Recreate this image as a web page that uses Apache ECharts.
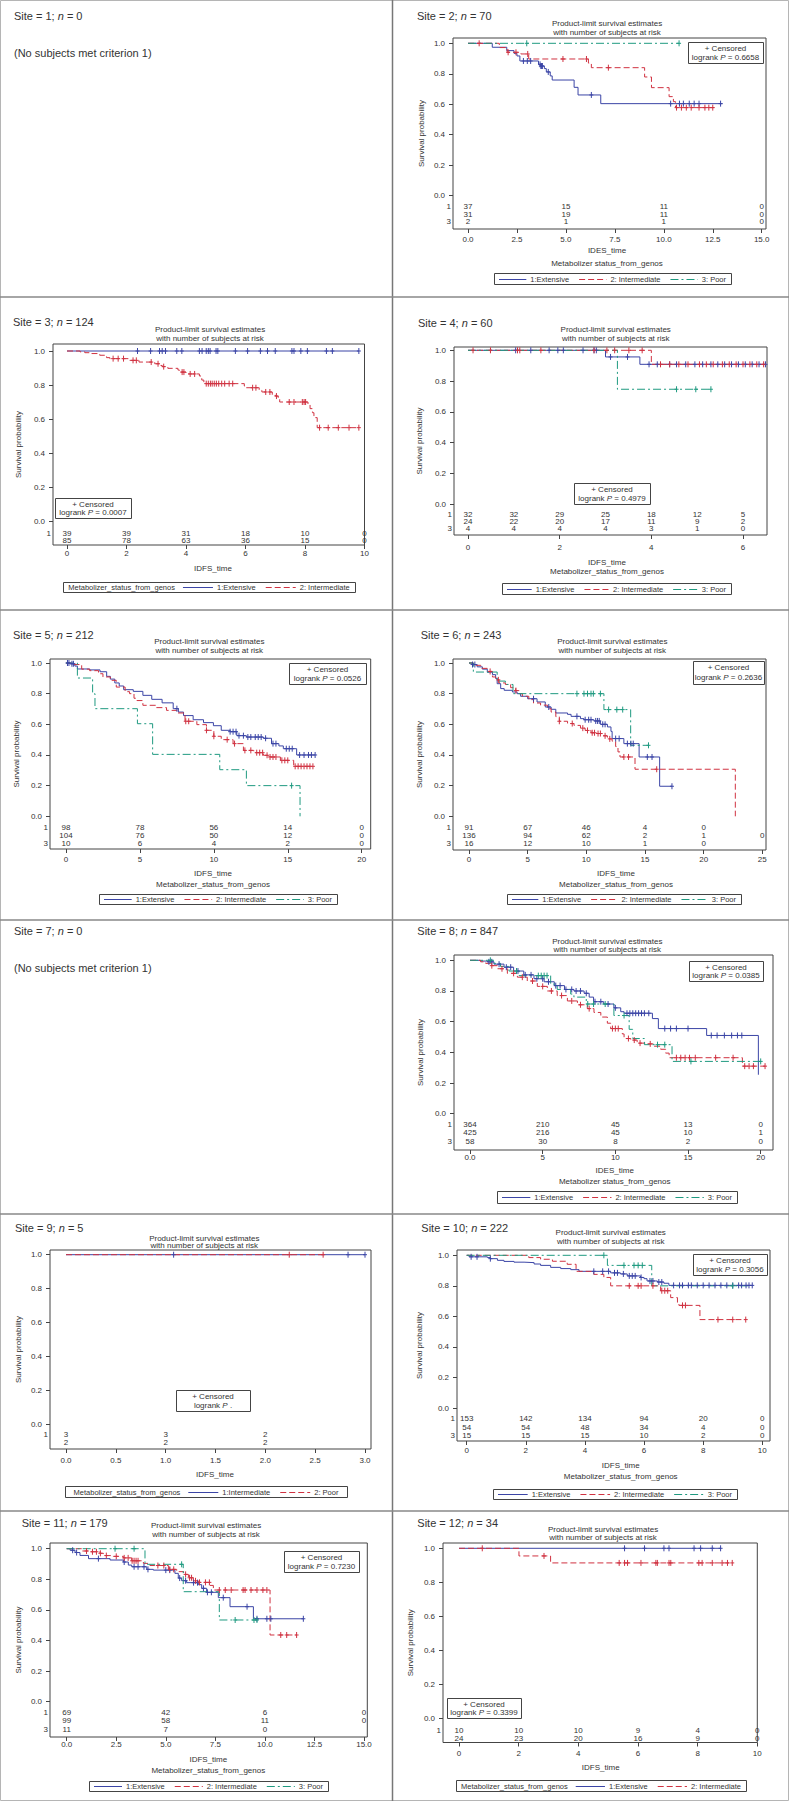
<!DOCTYPE html>
<html>
<head>
<meta charset="utf-8">
<title>Kaplan-Meier by site</title>
<script src="https://cdn.jsdelivr.net/npm/echarts@6/dist/echarts.min.js"></script>
<style>
  html, body { margin: 0; padding: 0; background: #fff; }
  #chart { width: 789px; height: 1801px; }
</style>
</head>
<body>
<div id="chart"></div>
<script>
// ---- data: [time, survival] steps, censor times, numbers at risk ----
const yTicks = [0, 0.2, 0.4, 0.6, 0.8, 1.0];
const names3 = ['1:Extensive', '2: Intermediate', '3: Poor'];
const names2 = ['1:Extensive', '2: Intermediate'];
const names9 = ['1:Intermediate', '2: Poor'];

// Site 2
const s2XTicks = [0, 2.5, 5, 7.5, 10, 12.5, 15];
const s2Ext = [[0,1],[1.24,0.974],[1.98,0.952],[2.35,0.934],[2.5,0.917],[2.65,0.884],[3.6,0.862],[3.72,0.851],[3.9,0.834],[4.0,0.812],[4.2,0.786],[4.3,0.759],[5.42,0.711],[5.62,0.661],[6.78,0.604],[13.0,0.604]];
const s2ExtCens = [2.83,3.03,3.2,3.68,3.72,3.76,3.8,4.1,6.3,10.35,10.8,11.0,11.3,11.55,11.8,12.9];
const s2Int = [[0,1],[1.6,0.972],[2.0,0.941],[2.7,0.93],[3.1,0.897],[6.15,0.87],[6.3,0.84],[9.02,0.779],[9.37,0.709],[10.27,0.65],[10.49,0.617],[10.6,0.578],[12.57,0.578]];
const s2IntCens = [0.57,2.05,2.45,3.05,4.85,6.05,7.17,10.65,10.9,11.15,11.4,11.8,12.1,12.3,12.5];
const s2Poor = [[0,1],[10.78,1]];
const s2PoorCens = [3.0,10.78];
const s2RiskT = [0, 5, 10, 15];
const s2Risk1 = [37, 15, 11, 0];
const s2Risk2 = [31, 19, 11, 0];
const s2Risk3 = [2, 1, 1, 0];

// Site 3
const s3XTicks = [0, 2, 4, 6, 8, 10];
const s3Ext = [[0,1],[9.81,1]];
const s3ExtCens = [2.37,2.81,3.11,3.2,3.31,3.69,3.86,4.45,4.54,4.68,4.75,4.81,5.01,5.07,5.66,6.07,6.5,6.74,7.0,7.56,7.63,7.86,8.08,8.72,8.92,9.81];
const s3Int = [[0,1],[0.44,0.995],[0.6,0.99],[0.83,0.985],[1.1,0.975],[1.33,0.961],[1.44,0.955],[2.1,0.945],[2.42,0.935],[2.95,0.925],[3.14,0.915],[3.2,0.908],[3.39,0.898],[3.73,0.888],[3.78,0.876],[4.0,0.865],[4.45,0.853],[4.53,0.829],[4.6,0.808],[5.96,0.794],[6.0,0.784],[6.46,0.769],[6.55,0.759],[6.9,0.741],[7.0,0.735],[7.1,0.716],[7.15,0.70],[8.1,0.686],[8.17,0.661],[8.25,0.637],[8.3,0.608],[8.41,0.549],[9.81,0.549]];
const s3IntCens = [1.55,1.72,1.9,2.22,2.33,2.83,3.06,3.25,3.87,3.93,4.14,4.29,4.68,4.75,4.82,4.88,4.95,5.02,5.1,5.2,5.3,5.45,5.57,6.24,6.35,6.68,6.82,7.04,7.47,7.63,7.91,7.97,8.02,8.49,8.78,9.12,9.48,9.81];
const s3RiskT = [0, 2, 4, 6, 8, 10];
const s3Risk1 = [39, 39, 31, 18, 10, 0];
const s3Risk2 = [85, 78, 63, 36, 15, 0];

// Site 4
const s4XTicks = [0, 2, 4, 6];
const s4Ext = [[0,1],[3.0,0.957],[3.75,0.909],[6.49,0.909]];
const s4ExtCens = [1.04,1.37,1.77,1.96,2.08,2.51,2.75,2.8,3.11,3.48,3.95,4.13,4.4,4.55,4.75,4.95,5.12,5.3,5.45,5.6,5.75,5.9,6.05,6.2,6.35,6.49];
const s4Int = [[0,1],[4.0,0.909],[6.45,0.909]];
const s4IntCens = [0.11,0.49,1.08,1.13,1.59,2.75,3.03,3.2,3.51,3.8,4.2,4.4,4.6,4.8,5.05,5.2,5.35,5.55,5.7,5.85,6.0,6.15,6.3,6.45];
const s4Poor = [[0,1],[3.26,0.747],[5.3,0.747]];
const s4PoorCens = [4.55,4.97,5.3];
const s4RiskT = [0, 1, 2, 3, 4, 5, 6];
const s4Risk1 = [32, 32, 29, 25, 18, 12, 5];
const s4Risk2 = [24, 22, 20, 17, 11, 9, 2];
const s4Risk3 = [4, 4, 4, 4, 3, 1, 0];

// Site 5
const s5XTicks = [0, 5, 10, 15, 20];
const s5Ext = [[0,1],[0.27,0.995],[0.6,0.98],[0.77,0.961],[1.6,0.955],[2.3,0.943],[2.75,0.913],[3.0,0.895],[3.3,0.87],[3.6,0.85],[3.9,0.826],[4.55,0.815],[5.2,0.789],[5.8,0.763],[6.5,0.74],[7.25,0.702],[7.6,0.68],[7.95,0.657],[8.6,0.63],[9.3,0.611],[9.97,0.591],[10.5,0.561],[11.1,0.552],[11.55,0.526],[12.2,0.517],[13.35,0.509],[13.9,0.474],[14.4,0.459],[14.7,0.441],[15.6,0.40],[16.85,0.40]];
const s5ExtCens = [0.1,0.2,0.4,0.5,7.5,11.1,11.3,11.5,11.7,12.0,12.3,12.5,12.8,13.0,13.2,13.5,14.0,14.2,14.9,15.1,15.3,15.8,16.1,16.4,16.6,16.85];
const s5Int = [[0,1],[0.38,0.99],[1.06,0.96],[1.6,0.95],[2.2,0.93],[2.5,0.909],[3.0,0.887],[3.4,0.843],[4.0,0.813],[4.3,0.80],[4.6,0.77],[4.8,0.755],[5.2,0.724],[6.1,0.709],[6.8,0.691],[7.5,0.674],[8.05,0.62],[8.85,0.598],[9.5,0.561],[10.0,0.522],[10.5,0.50],[11.3,0.474],[12.0,0.43],[12.7,0.415],[13.35,0.398],[13.8,0.387],[14.5,0.365],[15.4,0.326],[16.7,0.326]];
const s5IntCens = [8.1,8.3,9.5,10.0,10.9,11.4,12.1,12.5,12.9,13.1,13.3,13.6,13.8,14.0,14.2,14.6,14.8,15.0,15.5,15.7,15.9,16.1,16.3,16.5,16.7];
const s5Poor = [[0,1],[0.77,0.902],[1.8,0.80],[1.96,0.702],[4.83,0.604],[5.86,0.404],[10.4,0.304],[12.2,0.20],[15.83,0.0]];
const s5PoorCens = [15.26];
const s5RiskT = [0, 5, 10, 15, 20];
const s5Risk1 = [98, 78, 56, 14, 0];
const s5Risk2 = [104, 76, 50, 12, 0];
const s5Risk3 = [10, 6, 4, 2, 0];

// Site 6
const s6XTicks = [0, 5, 10, 15, 20, 25];
const s6Ext = [[0,1],[0.28,0.99],[0.7,0.975],[1.14,0.96],[1.56,0.94],[2.0,0.924],[2.27,0.90],[2.4,0.865],[2.7,0.833],[3.0,0.822],[3.7,0.811],[4.1,0.80],[4.4,0.783],[5.0,0.767],[5.8,0.746],[6.5,0.713],[7.0,0.698],[7.4,0.674],[8.4,0.665],[8.7,0.652],[9.5,0.637],[9.8,0.63],[10.65,0.622],[11.2,0.60],[11.8,0.583],[12.1,0.554],[12.2,0.507],[13.2,0.474],[14.5,0.387],[16.25,0.196],[17.3,0.196]];
const s6ExtCens = [0.3,0.5,5.5,6.8,9.2,9.9,10.2,10.4,10.8,10.95,11.1,11.4,11.6,12.5,12.8,13.5,13.8,14.0,15.2,15.6,17.3];
const s6Int = [[0,1],[0.4,0.985],[1.0,0.965],[1.56,0.945],[2.0,0.909],[2.27,0.89],[2.56,0.87],[3.1,0.86],[3.55,0.839],[3.98,0.82],[4.26,0.80],[4.55,0.783],[5.1,0.761],[5.5,0.739],[6.1,0.725],[6.7,0.702],[7.0,0.68],[7.4,0.65],[7.7,0.62],[8.4,0.605],[8.95,0.593],[9.5,0.575],[9.9,0.56],[10.4,0.545],[10.9,0.54],[11.4,0.525],[11.8,0.505],[12.2,0.49],[12.5,0.455],[12.7,0.42],[12.87,0.387],[14.15,0.307],[22.7,0.0]];
const s6IntCens = [1.8,2.5,4.0,7.7,8.8,9.7,10.1,10.5,10.7,11.0,11.2,11.6,12.0,13.2,13.6,16.0];
const s6Poor = [[0,1],[0.37,0.941],[2.4,0.882],[3.1,0.86],[3.75,0.80],[11.5,0.696],[13.78,0.463],[15.3,0.463]];
const s6PoorCens = [9.2,9.8,10.1,10.4,10.6,11.2,11.9,12.6,13.1,15.3];
const s6RiskT = [0, 5, 10, 15, 20, 25];
const s6Risk1 = [91, 67, 46, 4, 0, null];
const s6Risk2 = [136, 94, 62, 2, 1, 0];
const s6Risk3 = [16, 12, 10, 1, 0, null];

// Site 8
const s8XTicks = [0, 5, 10, 15, 20];
const s8Ext = [[0,1],[0.73,0.995],[1.2,0.99],[1.65,0.975],[2.34,0.955],[3.0,0.93],[3.7,0.905],[4.4,0.88],[5.1,0.86],[5.8,0.835],[6.5,0.81],[7.15,0.80],[7.85,0.785],[8.2,0.76],[8.5,0.73],[9.2,0.715],[9.9,0.69],[10.37,0.665],[10.6,0.655],[12.55,0.62],[12.96,0.555],[16.28,0.51],[19.84,0.254]];
const s8ExtCens = [1.3,1.5,2.0,2.5,2.8,3.3,3.8,4.2,4.6,5.0,5.4,5.9,6.2,6.6,7.0,7.3,7.6,8.0,8.6,9.0,9.5,10.0,10.8,11.0,11.2,11.4,11.6,11.8,12.0,12.3,13.4,13.8,14.2,15.0,16.6,17.0,17.5,18.0,18.4,18.7];
const s8Int = [[0,1],[0.73,0.99],[1.08,0.98],[1.42,0.965],[1.88,0.945],[2.57,0.915],[3.26,0.89],[3.94,0.865],[4.63,0.83],[5.32,0.80],[6.0,0.77],[6.7,0.735],[7.39,0.71],[8.07,0.685],[8.53,0.66],[9.0,0.63],[9.45,0.59],[9.68,0.555],[10.48,0.52],[10.6,0.49],[11.06,0.48],[11.5,0.46],[12.2,0.455],[12.66,0.44],[13.12,0.42],[13.46,0.395],[13.7,0.365],[18.74,0.31],[20.3,0.31]];
const s8IntCens = [1.5,2.2,3.0,3.6,4.3,5.0,5.6,6.3,7.0,7.6,8.2,9.8,10.0,10.2,10.9,11.3,11.7,12.4,14.2,14.5,14.8,15.1,15.5,16.9,18.1,18.9,19.2,19.5,20.3];
const s8Poor = [[0,1],[1.65,0.98],[2.1,0.96],[2.68,0.93],[3.37,0.90],[5.55,0.845],[6.0,0.81],[6.93,0.78],[7.15,0.76],[8.0,0.715],[9.9,0.64],[10.95,0.55],[11.2,0.49],[12.0,0.45],[13.9,0.341],[20.0,0.341]];
const s8PoorCens = [1.4,3.2,4.7,4.9,5.1,5.3,8.1,8.5,9.3,10.6,12.9,13.4,15.2,20.0];
const s8RiskT = [0, 5, 10, 15, 20];
const s8Risk1 = [364, 210, 45, 13, 0];
const s8Risk2 = [425, 216, 45, 10, 1];
const s8Risk3 = [58, 30, 8, 2, 0];

// Site 9
const s9XTicks = [0, 0.5, 1, 1.5, 2, 2.5, 3];
const s9Int = [[0,1],[3.0,1]];
const s9IntCens = [1.08,2.83,3.0];
const s9Poor = [[0,1],[2.58,1]];
const s9PoorCens = [2.24,2.58];
const s9RiskT = [0, 1, 2];
const s9Risk1 = [3, 3, 2];
const s9Risk2 = [2, 2, 2];

// Site 10
const s10XTicks = [0, 2, 4, 6, 8, 10];
const s10Ext = [[0,1],[0.08,0.99],[0.7,0.985],[0.8,0.978],[1.04,0.967],[1.26,0.96],[1.6,0.955],[1.94,0.952],[2.28,0.943],[2.5,0.934],[2.84,0.921],[3.18,0.913],[3.52,0.906],[3.8,0.895],[4.87,0.885],[5.2,0.878],[5.43,0.865],[5.88,0.855],[6.0,0.847],[6.1,0.832],[6.45,0.825],[6.67,0.817],[6.84,0.803],[9.66,0.803]];
const s10ExtCens = [0.15,0.35,0.8,4.3,4.6,4.8,5.0,5.1,5.3,5.5,5.6,5.7,5.9,6.2,6.3,6.5,6.6,7.0,7.2,7.3,7.5,7.6,7.8,8.0,8.2,8.4,8.6,8.8,9.0,9.2,9.3,9.45,9.55,9.66];
const s10Int = [[0,1],[2.1,0.985],[2.5,0.974],[2.9,0.961],[3.4,0.941],[3.7,0.895],[4.3,0.875],[4.64,0.855],[4.87,0.80],[6.56,0.768],[6.9,0.723],[7.13,0.683],[7.18,0.672],[7.89,0.579],[9.44,0.579]];
const s10IntCens = [5.5,5.8,5.9,6.3,6.6,6.7,6.8,7.3,7.4,8.5,9.0,9.44];
const s10Poor = [[0,1],[4.76,0.934],[6.26,0.80],[9.6,0.80]];
const s10PoorCens = [4.64,5.32,5.66,5.8,5.94,9.0];
const s10RiskT = [0, 2, 4, 6, 8, 10];
const s10Risk1 = [153, 142, 134, 94, 20, 0];
const s10Risk2 = [54, 54, 48, 34, 4, 0];
const s10Risk3 = [15, 15, 15, 10, 2, 0];

// Site 11
const s11XTicks = [0, 2.5, 5, 7.5, 10, 12.5, 15];
const s11Ext = [[0,1],[0.17,0.99],[0.42,0.975],[0.67,0.956],[1.1,0.935],[2.19,0.926],[2.86,0.913],[3.11,0.893],[3.28,0.882],[4.04,0.865],[4.37,0.86],[5.46,0.839],[5.63,0.808],[5.8,0.791],[6.05,0.778],[6.64,0.765],[6.81,0.741],[7.06,0.715],[7.65,0.68],[8.24,0.621],[9.42,0.542],[11.94,0.542]];
const s11ExtCens = [0.3,0.5,1.6,2.9,3.4,3.6,3.9,4.1,5.0,5.2,5.7,6.0,6.4,6.6,6.9,7.1,7.3,7.9,9.1,9.6,10.1,10.3,11.94];
const s11Int = [[0,1],[0.76,0.985],[1.1,0.98],[1.68,0.97],[1.85,0.955],[2.35,0.95],[2.86,0.94],[3.28,0.921],[3.87,0.904],[4.2,0.89],[5.13,0.865],[5.55,0.85],[5.9,0.832],[6.14,0.81],[6.39,0.79],[6.64,0.78],[7.23,0.76],[7.4,0.73],[10.26,0.436],[11.6,0.436]];
const s11IntCens = [1.0,1.3,1.5,1.7,2.0,2.5,2.9,3.1,3.3,3.4,3.5,3.6,4.6,4.9,5.2,5.4,6.0,6.2,6.3,6.5,6.7,7.0,7.2,7.7,8.0,8.3,8.9,9.0,9.3,9.6,9.9,10.1,10.8,11.1,11.6];
const s11Poor = [[0,1],[3.95,0.898],[5.88,0.719],[7.7,0.534],[9.6,0.534]];
const s11PoorCens = [2.44,3.4,5.8,8.5,9.45,9.6];
const s11RiskT = [0, 5, 10, 15];
const s11Risk1 = [69, 42, 6, 0];
const s11Risk2 = [99, 58, 11, 0];
const s11Risk3 = [11, 7, 0, null];

// Site 12
const s12XTicks = [0, 2, 4, 6, 8, 10];
const s12Ext = [[0,1],[8.77,1]];
const s12ExtCens = [5.55,6.22,6.87,7.04,7.88,8.1,8.49,8.77];
const s12Int = [[0,1],[2.01,0.955],[3.07,0.914],[9.16,0.914]];
const s12IntCens = [0.78,2.85,5.37,5.55,5.65,6.1,6.6,6.65,7.04,7.1,8.04,8.15,8.49,8.82,9.0,9.16];
const s12RiskT = [0, 2, 4, 6, 8, 10];
const s12Risk1 = [10, 10, 10, 9, 4, 0];
const s12Risk2 = [24, 23, 20, 16, 9, 0];

// ---- look ----
const FONT = '"Liberation Sans", Arial, Helvetica, sans-serif';
const INK = '#333';
const FRAME = '#444';
const groupStyle = [
  { color: '#3b45a6', dash: 'solid' },
  { color: '#d03241', dash: [6, 3] },
  { color: '#1f9a80', dash: [8, 3, 2, 3] }
];
const fix1 = v => v.toFixed(1);
const plain = v => String(v);

// ---- panel layout (pixels in the 789x1801 page) ----
const panels = [
  { site: 2, n: 70, title: [417, 16], sub: [607, 23, 32],
    box: [453, 38, 766, 229], xMap: [0, 468, 15, 761.7], yMap: [43.3, 195.7],
    xTicks: s2XTicks, xFmt: fix1, labelY: 239.5,
    curves: [[s2Ext, s2ExtCens], [s2Int, s2IntCens], [s2Poor, s2PoorCens]],
    riskT: s2RiskT, risk: [s2Risk1, s2Risk2, s2Risk3], riskY: [206.7, 214.3, 221.7],
    xName: ['IDES_time', 'Metabolizer status_from_genos'], xNameY: [250.7, 263.3], xNameX: 607,
    legend: [494, 273, 731, 284], names: names3, prefix: false,
    cens: [688, 42, 763, 63], p: '0.6658', yNameX: 421 },
  { site: 3, n: 124, title: [13, 322], sub: [210, 329, 338],
    box: [53, 344, 364.5, 545], xMap: [0, 67, 10, 364.5], yMap: [351, 521],
    xTicks: s3XTicks, xFmt: plain, labelY: 554,
    curves: [[s3Ext, s3ExtCens], [s3Int, s3IntCens]],
    riskT: s3RiskT, risk: [s3Risk1, s3Risk2], riskY: [533, 540],
    xName: ['IDFS_time'], xNameY: [568], xNameX: 213,
    legend: [63, 582, 355, 592], names: names2, prefix: true,
    cens: [55, 498, 131, 518], p: '0.0007', yNameX: 18.5 },
  { site: 4, n: 60, title: [418, 323.3], sub: [615.7, 329.3, 338.3],
    box: [454, 347, 767, 535], xMap: [0, 468, 6, 743], yMap: [350.3, 504.3],
    xTicks: s4XTicks, xFmt: plain, labelY: 547.7,
    curves: [[s4Ext, s4ExtCens], [s4Int, s4IntCens], [s4Poor, s4PoorCens]],
    riskT: s4RiskT, risk: [s4Risk1, s4Risk2, s4Risk3], riskY: [514.3, 521.7, 528.7],
    xName: ['IDFS_time', 'Metabolizer_status_from_genos'], xNameY: [562.7, 571.5], xNameX: 607,
    legend: [502, 583, 731, 594], names: names3, prefix: false,
    cens: [574, 483, 650, 504], p: '0.4979', yNameX: 419 },
  { site: 5, n: 212, title: [13, 635.3], sub: [209.3, 641.3, 650.3],
    box: [50, 659, 370.7, 849], xMap: [0, 66, 20, 361.7], yMap: [663, 816.3],
    xTicks: s5XTicks, xFmt: plain, labelY: 860.3,
    curves: [[s5Ext, s5ExtCens], [s5Int, s5IntCens], [s5Poor, s5PoorCens]],
    riskT: s5RiskT, risk: [s5Risk1, s5Risk2, s5Risk3], riskY: [827, 835.3, 843.7],
    xName: ['IDFS_time', 'Metabolizer_status_from_genos'], xNameY: [873.7, 884.3], xNameX: 213,
    legend: [99, 894, 337, 904], names: names3, prefix: false,
    cens: [289, 663, 366, 684], p: '0.0526', yNameX: 16.7 },
  { site: 6, n: 243, title: [420.7, 635.3], sub: [612.3, 641.7, 650.7],
    box: [453, 659, 766, 850], xMap: [0, 469, 25, 762.3], yMap: [663, 816.3],
    xTicks: s6XTicks, xFmt: plain, labelY: 860.3,
    curves: [[s6Ext, s6ExtCens], [s6Int, s6IntCens], [s6Poor, s6PoorCens]],
    riskT: s6RiskT, risk: [s6Risk1, s6Risk2, s6Risk3], riskY: [827.3, 835.3, 843.7],
    xName: ['IDFS_time', 'Metabolizer_status_from_genos'], xNameY: [873.7, 884.3], xNameX: 616,
    legend: [507, 894, 741, 904], names: names3, prefix: false,
    cens: [693, 661, 764, 684], p: '0.2636', yNameX: 419 },
  { site: 8, n: 847, title: [417.3, 931.3], sub: [607.3, 941.3, 949.7],
    box: [454, 955, 773, 1150], xMap: [0, 470, 20, 760.7], yMap: [960.3, 1113.7],
    xTicks: s8XTicks, xFmt: v => (v === 0 ? '0.0' : String(v)), labelY: 1158,
    curves: [[s8Ext, s8ExtCens], [s8Int, s8IntCens], [s8Poor, s8PoorCens]],
    riskT: s8RiskT, risk: [s8Risk1, s8Risk2, s8Risk3], riskY: [1124.7, 1132.7, 1141],
    xName: ['IDES_time', 'Metabolizer status_from_genos'], xNameY: [1170.3, 1181.3], xNameX: 614.7,
    legend: [497, 1191, 737, 1203], names: names3, prefix: false,
    cens: [689, 961, 763, 981], p: '0.0385', yNameX: 420.7 },
  { site: 9, n: 5, title: [15, 1228], sub: [204.3, 1238, 1245.3],
    box: [50, 1250, 371, 1449], xMap: [0, 66, 3, 365], yMap: [1254.7, 1424.3],
    xTicks: s9XTicks, xFmt: fix1, labelY: 1461.3,
    curves: [[s9Int, s9IntCens], [s9Poor, s9PoorCens]],
    riskT: s9RiskT, risk: [s9Risk1, s9Risk2], riskY: [1434.7, 1442.7],
    xName: ['IDFS_time'], xNameY: [1474.7], xNameX: 215,
    legend: [65, 1486, 347, 1497], names: names9, prefix: true,
    cens: [176, 1390, 250, 1411], p: null, yNameX: 18.3 },
  { site: 10, n: 222, title: [421.3, 1228], sub: [610.7, 1232.7, 1241.3],
    box: [457, 1250, 770, 1441], xMap: [0, 466.7, 10, 762.3], yMap: [1255.3, 1408],
    xTicks: s10XTicks, xFmt: plain, labelY: 1451.3,
    curves: [[s10Ext, s10ExtCens], [s10Int, s10IntCens], [s10Poor, s10PoorCens]],
    riskT: s10RiskT, risk: [s10Risk1, s10Risk2, s10Risk3], riskY: [1418.7, 1427, 1435.3],
    xName: ['IDFS_time', 'Metabolizer_status_from_genos'], xNameY: [1465.3, 1476.3], xNameX: 620.7,
    legend: [493, 1489, 737, 1499], names: names3, prefix: false,
    cens: [693, 1254, 767, 1275], p: '0.3056', yNameX: 419 },
  { site: 11, n: 179, title: [21.7, 1523.3], sub: [206, 1525, 1534.3],
    box: [50, 1543, 367.3, 1737], xMap: [0, 66.7, 15, 364], yMap: [1548.7, 1701.7],
    xTicks: s11XTicks, xFmt: fix1, labelY: 1745,
    curves: [[s11Ext, s11ExtCens], [s11Int, s11IntCens], [s11Poor, s11PoorCens]],
    riskT: s11RiskT, risk: [s11Risk1, s11Risk2, s11Risk3], riskY: [1712.3, 1721, 1729.3],
    xName: ['IDFS_time', 'Metabolizer_status_from_genos'], xNameY: [1759, 1770], xNameX: 208.3,
    legend: [89, 1781, 328, 1791], names: names3, prefix: false,
    cens: [284, 1551, 359, 1572], p: '0.7230', yNameX: 18.3 },
  { site: 12, n: 34, title: [417.3, 1523.3], sub: [603, 1529.3, 1537.3],
    box: [443, 1543, 757.3, 1742.5], xMap: [0, 459, 10, 757.3], yMap: [1548.3, 1718.3],
    xTicks: s12XTicks, xFmt: plain, labelY: 1754,
    curves: [[s12Ext, s12ExtCens], [s12Int, s12IntCens]],
    riskT: s12RiskT, risk: [s12Risk1, s12Risk2], riskY: [1730, 1738],
    xName: ['IDFS_time'], xNameY: [1767.7], xNameX: 600.7,
    legend: [456, 1780, 746, 1791], names: names2, prefix: true,
    cens: [447, 1698, 521, 1718], p: '0.3399', yNameX: 410 }
];

// empty sites: title position and note position
const emptySites = [
  { site: 1, title: [14, 16], note: 52.7 },
  { site: 7, title: [14, 931.3], note: 968 }
];

// ---- helpers ----
const LEG_SIZE = 7.5;
const measureCtx = document.createElement('canvas').getContext('2d');
function textWidth(s, size) {
  measureCtx.font = size + 'px ' + FONT;
  return measureCtx.measureText(s).width;
}

function survivalAt(curve, t) {
  let s = curve[0][1];
  for (const pt of curve) {
    if (pt[0] <= t + 1e-9) s = pt[1]; else break;
  }
  return s;
}

function txt(x, y, text, opt) {
  opt = opt || {};
  const align = opt.align || 'left';
  const style = {
    text: text, fontSize: opt.size || 8, fontFamily: FONT, fill: opt.color || INK,
    align: align, verticalAlign: 'middle', textAlign: align, textVerticalAlign: 'middle'
  };
  if (opt.rich) style.rich = opt.rich;
  return { type: 'text', x: x, y: y, rotation: opt.rotation || 0, silent: true, z: 20, style: style };
}

function richItalic(size) {
  return {
    a: { fontSize: size, fontFamily: FONT, fill: INK, color: INK },
    b: { fontSize: size, fontFamily: FONT, fill: INK, color: INK, fontStyle: 'italic' }
  };
}

function titleText(pos, site, n) {
  return txt(pos[0], pos[1], '{a|Site = ' + site + '; }{b|n}{a| = ' + n + '}', { size: 11, rich: richItalic(11) });
}

function censorRenderer(color) {
  return function (params, api) {
    const p = api.coord([api.value(0), api.value(1)]);
    return {
      type: 'group',
      children: [
        { type: 'line', shape: { x1: p[0], y1: p[1] - 3, x2: p[0], y2: p[1] + 3 }, style: { stroke: color, lineWidth: 1 } },
        { type: 'line', shape: { x1: p[0] - 2, y1: p[1], x2: p[0] + 2, y2: p[1] }, style: { stroke: color, lineWidth: 1 } }
      ]
    };
  };
}

function riskRenderer(params, api) {
  const p = api.coord([api.value(0), api.value(1)]);
  return {
    type: 'text', x: p[0], y: p[1],
    style: { text: String(api.value(2)), fontSize: 8, fontFamily: FONT, fill: INK,
             align: 'center', verticalAlign: 'middle', textAlign: 'center', textVerticalAlign: 'middle' }
  };
}

// legend drawn inside the box measured on the figure; line length fitted to the box
function legendGraphic(p) {
  const [l, t, r, b] = p.legend;
  const cy = Math.round((t + b) / 2) + 0.5;
  const out = [{ type: 'rect', z: 15, silent: true,
    shape: { x: Math.round(l) + 0.5, y: Math.round(t) + 0.5, width: Math.round(r - l), height: Math.round(b - t) },
    style: { fill: '#fff', stroke: FRAME, lineWidth: 1 } }];
  const n = p.names.length;
  const pad = 5, g1 = 4, g2 = 10, gp = 8;
  const prefix = 'Metabolizer_status_from_genos';
  const pw = p.prefix ? textWidth(prefix, LEG_SIZE) + gp : 0;
  const widths = p.names.map(s => textWidth(s, LEG_SIZE));
  const T = pw + widths.reduce((a, w) => a + w, 0);
  let L = (r - l - 2 * pad - T - n * g1 - (n - 1) * g2) / n;
  L = Math.max(14, Math.min(30, L));
  const total = T + n * (L + g1) + (n - 1) * g2;
  let x = (l + r) / 2 - total / 2;
  if (p.prefix) { out.push(txt(x, cy, prefix, { size: LEG_SIZE })); x += pw; }
  p.names.forEach((s, i) => {
    const st = groupStyle[i];
    out.push({ type: 'line', z: 20, silent: true,
      shape: { x1: x, y1: cy, x2: x + L, y2: cy },
      style: { stroke: st.color, lineWidth: 1, lineDash: st.dash === 'solid' ? null : st.dash } });
    x += L + g1;
    out.push(txt(x, cy, s, { size: LEG_SIZE }));
    x += widths[i] + g2;
  });
  return out;
}

function censBoxGraphic(p) {
  const [l, t, r, b] = p.cens;
  const cx = (l + r) / 2, h = b - t;
  const line2 = p.p === null ? '{a|logrank }{b|P}{a| .}' : '{a|logrank }{b|P}{a| = ' + p.p + '}';
  return [
    { type: 'rect', z: 15, silent: true,
      shape: { x: Math.round(l) + 0.5, y: Math.round(t) + 0.5, width: Math.round(r - l), height: Math.round(h) },
      style: { fill: '#fff', stroke: FRAME, lineWidth: 1 } },
    txt(cx, t + h * 0.3, '+ Censored', { align: 'center' }),
    txt(cx, t + h * 0.72, line2, { align: 'center', rich: richItalic(8) })
  ];
}

// ---- build option ----
const option = {
  animation: false,
  backgroundColor: '#fff',
  textStyle: { fontFamily: FONT },
  grid: [], xAxis: [], yAxis: [], series: [], graphic: []
};
const gfx = option.graphic;

// panel frame lines
const frameH = [297, 610, 920, 1214, 1511];
gfx.push({ type: 'rect', silent: true, z: 1, shape: { x: 0.5, y: 0.5, width: 788, height: 1800 },
  style: { fill: 'none', stroke: '#b5b5b5', lineWidth: 1 } });
gfx.push({ type: 'line', silent: true, z: 1, shape: { x1: 392.5, y1: 0, x2: 392.5, y2: 1801 },
  style: { stroke: '#777', lineWidth: 1.5 } });
frameH.forEach(y => gfx.push({ type: 'line', silent: true, z: 1, shape: { x1: 0, y1: y, x2: 789, y2: y },
  style: { stroke: '#888', lineWidth: 1.5 } }));

emptySites.forEach(e => {
  gfx.push(titleText(e.title, e.site, 0));
  gfx.push(txt(e.title[0], e.note, '(No subjects met criterion 1)', { size: 11 }));
});

panels.forEach(p => {
  const [l, t, r, b] = p.box;
  const [v0, px0, v1, px1] = p.xMap;
  const sx = (px1 - px0) / (v1 - v0);
  const xMin = v0 - (px0 - l) / sx;
  const xMax = v0 + (r - px0) / sx;
  const sy = p.yMap[1] - p.yMap[0];
  const yMax = 1 + (p.yMap[0] - t) / sy;
  const yMin = -(b - p.yMap[1]) / sy;

  // main plot box
  const gi = option.grid.length;
  option.grid.push({ left: l, top: t, width: r - l, height: b - t, show: true,
    borderColor: FRAME, borderWidth: 1, backgroundColor: 'transparent',
    containLabel: false, outerBoundsMode: 'none' });
  option.xAxis.push({ type: 'value', gridIndex: gi, min: xMin, max: xMax,
    axisLine: { show: false, onZero: false }, splitLine: { show: false },
    axisTick: { show: true, length: 4, customValues: p.xTicks, lineStyle: { color: FRAME } },
    axisLabel: { customValues: p.xTicks, formatter: p.xFmt, fontSize: 8, color: INK, fontFamily: FONT,
      margin: p.labelY - b - 4.5 } });
  option.yAxis.push({ type: 'value', gridIndex: gi, min: yMin, max: yMax,
    axisLine: { show: false, onZero: false }, splitLine: { show: false },
    axisTick: { show: true, length: 4, customValues: yTicks, lineStyle: { color: FRAME } },
    axisLabel: { customValues: yTicks, formatter: fix1, fontSize: 8, color: INK, fontFamily: FONT, margin: 8 } });

  // at-risk table rows share the x scale
  const nRows = p.risk.length;
  const rh = (p.riskY[nRows - 1] - p.riskY[0]) / (nRows - 1);
  const ri = option.grid.length;
  option.grid.push({ left: l, top: p.riskY[0] - rh / 2, width: r - l, height: rh * nRows, show: false,
    containLabel: false, outerBoundsMode: 'none' });
  option.xAxis.push({ type: 'value', gridIndex: ri, min: xMin, max: xMax, show: false });
  option.yAxis.push({ type: 'category', gridIndex: ri, inverse: true,
    data: p.risk.map((row, k) => String(k + 1)),
    axisLine: { show: false }, axisTick: { show: false }, splitLine: { show: false },
    axisLabel: { fontSize: 8, color: INK, fontFamily: FONT, margin: 2 } });

  // survival curves and censor marks
  p.curves.forEach(([curve, cens], k) => {
    const st = groupStyle[k];
    option.series.push({ type: 'line', name: p.names[k], xAxisIndex: gi, yAxisIndex: gi,
      data: curve, step: 'end', symbol: 'none', silent: true, z: 3,
      lineStyle: { color: st.color, width: 1, type: st.dash } });
    option.series.push({ type: 'custom', name: 'censored', xAxisIndex: gi, yAxisIndex: gi, silent: true, z: 4,
      data: cens.map(c => [c, survivalAt(curve, c)]), renderItem: censorRenderer(st.color) });
  });

  // numbers at risk
  const riskData = [];
  p.risk.forEach((row, k) => row.forEach((v, j) => { if (v !== null) riskData.push([p.riskT[j], k, v]); }));
  option.series.push({ type: 'custom', name: 'at risk', xAxisIndex: ri, yAxisIndex: ri, silent: true, z: 5,
    data: riskData, renderItem: riskRenderer });

  // texts and boxes
  gfx.push(titleText(p.title, p.site, p.n));
  gfx.push(txt(p.sub[0], p.sub[1], 'Product-limit survival estimates', { align: 'center' }));
  gfx.push(txt(p.sub[0], p.sub[2], 'with number of subjects at risk', { align: 'center' }));
  gfx.push(txt(p.yNameX, (t + b) / 2, 'Survival probability', { align: 'center', rotation: Math.PI / 2 }));
  p.xName.forEach((s, k) => gfx.push(txt(p.xNameX, p.xNameY[k], s, { align: 'center' })));
  legendGraphic(p).forEach(g => gfx.push(g));
  censBoxGraphic(p).forEach(g => gfx.push(g));
});

const chart = echarts.init(document.getElementById('chart'), null, { renderer: 'svg', width: 789, height: 1801 });
chart.setOption(option);
</script>
</body>
</html>
